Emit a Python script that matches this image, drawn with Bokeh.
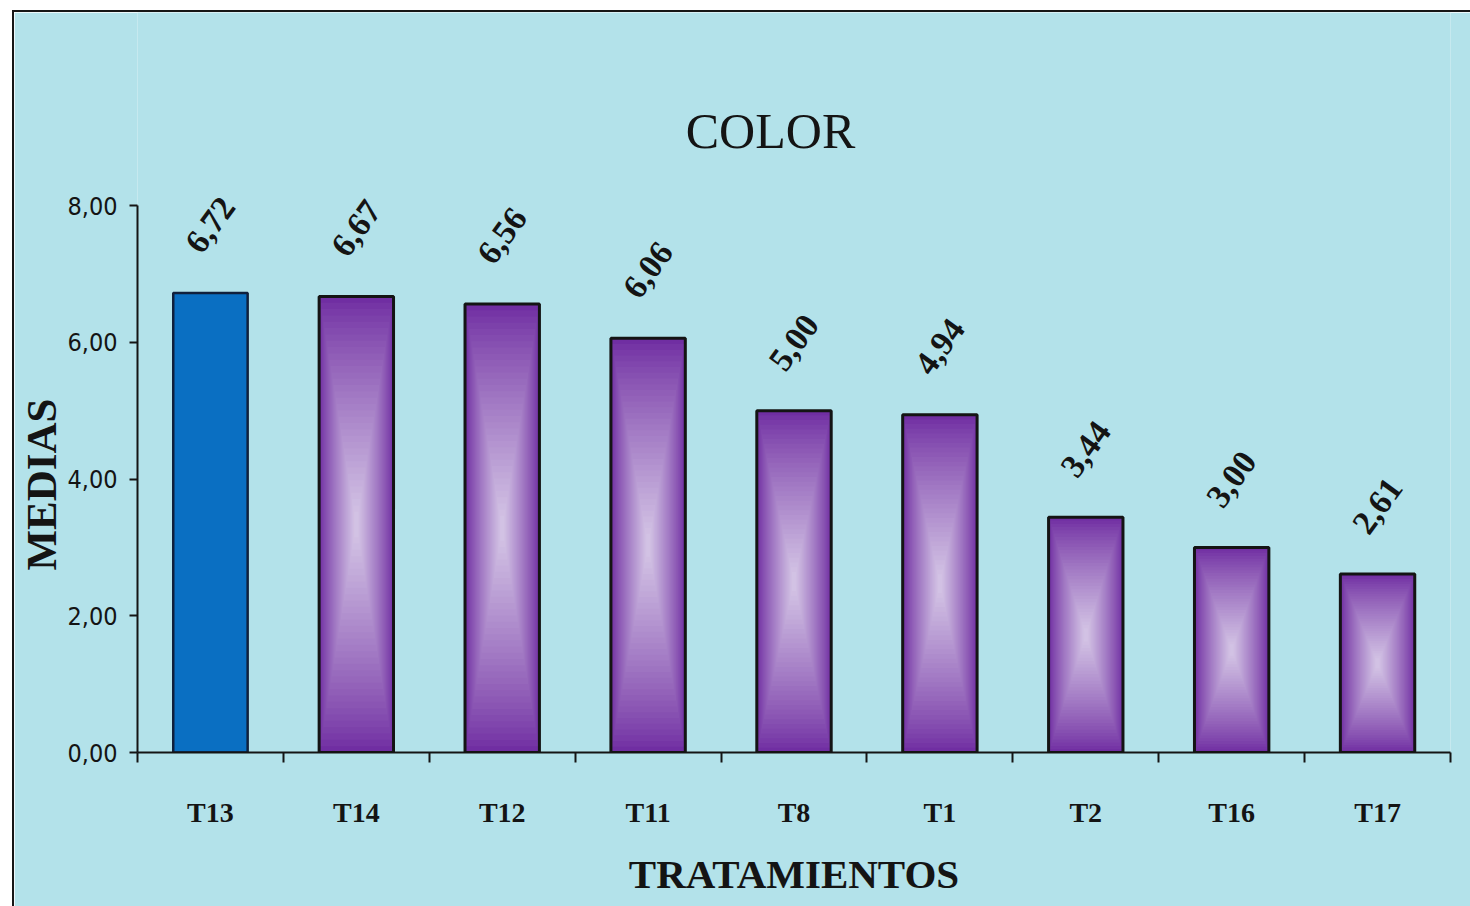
import numpy as np
from bokeh.plotting import figure
from bokeh.models import FixedTicker, Label, LabelSet, Range1d, ColumnDataSource, Title
from bokeh.embed import file_html
from bokeh.resources import INLINE

# Medias de la variable COLOR por tratamiento
tratamientos = ["T13", "T14", "T12", "T11", "T8", "T1", "T2", "T16", "T17"]
medias = [6.72, 6.67, 6.56, 6.06, 5.00, 4.94, 3.44, 3.00, 2.61]
y_ticks = [0, 2, 4, 6, 8]


def coma(v):
    return f"{v:.2f}".replace(".", ",")


BG = "#b3e2ea"
INK = "#141414"
SERIF = "Liberation Serif"
NARROW = "DejaVu Sans Condensed, Liberation Sans Narrow, Liberation Sans"

n = len(tratamientos)
xs = list(range(n))

# el área de trazado llega hasta arriba para que el título y los valores no se recorten;
# el eje Y solo se dibuja entre 0 y 8
FRAME_H = 740
Y_END = 8 * FRAME_H / 547

p = figure(width=1456, height=894, output_backend="svg", toolbar_location=None,
           x_range=Range1d(-0.5, n - 0.5), y_range=Range1d(0, Y_END),
           min_border_left=123, min_border_right=20,
           min_border_top=0, min_border_bottom=154,
           background_fill_color=BG, border_fill_color=BG,
           outline_line_color=None)
p.margin = (12, 0, 0, 14)
p.styles = {"outline": "2px solid #161616"}
p.xgrid.grid_line_color = None
p.ygrid.grid_line_color = None

# eje X: etiquetas en el centro de cada barra, marcas entre categorías
ax = p.xaxis[0]
ax.ticker = FixedTicker(ticks=xs, minor_ticks=[i - 0.5 for i in range(n + 1)])
ax.major_label_overrides = {i: t for i, t in zip(xs, tratamientos)}
ax.major_tick_out = 0
ax.major_tick_in = 0
ax.minor_tick_out = 10
ax.minor_tick_in = 0
ax.minor_tick_line_color = INK
ax.minor_tick_line_width = 2
ax.axis_line_color = INK
ax.axis_line_width = 2
ax.major_label_text_font = SERIF
ax.major_label_text_font_style = "bold"
ax.major_label_text_font_size = "28px"
ax.major_label_text_color = INK
ax.major_label_standoff = 34
ax.axis_label = "TRATAMIENTOS"
ax.axis_label_text_font = SERIF
ax.axis_label_text_font_style = "bold"
ax.axis_label_text_font_size = "41px"
ax.axis_label_text_color = INK
ax.axis_label_standoff = 20

# eje Y
ay = p.yaxis[0]
ay.bounds = (0, 8)
ay.ticker = FixedTicker(ticks=y_ticks, minor_ticks=[])
ay.major_label_overrides = {t: coma(t) for t in y_ticks}
ay.major_tick_out = 8
ay.major_tick_in = 0
ay.major_tick_line_color = INK
ay.major_tick_line_width = 2
ay.axis_line_color = INK
ay.axis_line_width = 2
ay.major_label_text_font = NARROW
ay.major_label_text_font_size = "25px"
ay.major_label_text_color = INK
ay.major_label_standoff = 12

# título del eje Y, a la altura de la escala 0-8
p.add_layout(Title(text="MEDIAS", align="left", offset=182, standoff=0,
                   text_font=SERIF, text_font_style="bold",
                   text_font_size="43px", text_color=INK), "left")

# barras
w = 0.51
dark = np.array([0x70, 0x2e, 0xa2])
light = np.array([0xd2, 0xc2, 0xe4])
N = 36

g_left, g_right, g_bottom, g_top, g_color = [], [], [], [], []
for i, v in enumerate(medias):
    if i == 0:
        continue
    for k in range(N):
        t = k / N
        f = min(1.0, t ** 0.85 * 1.05)
        c = dark + (light - dark) * f
        hw = w / 2 * (1 - t)
        hh = v / 2 * (1 - t)
        g_left.append(xs[i] - hw)
        g_right.append(xs[i] + hw)
        g_bottom.append(v / 2 - hh)
        g_top.append(v / 2 + hh)
        g_color.append("#%02x%02x%02x" % tuple(int(round(x)) for x in c))

p.quad(left=g_left, right=g_right, bottom=g_bottom, top=g_top,
       fill_color=g_color, line_color=None)

others = [i for i in xs if i != 0]
p.quad(left=[xs[i] - w / 2 for i in others], right=[xs[i] + w / 2 for i in others],
       bottom=0, top=[medias[i] for i in others],
       fill_color=None, line_color=INK, line_width=3)

p.quad(left=[xs[0] - w / 2], right=[xs[0] + w / 2], bottom=0, top=[medias[0]],
       fill_color="#0a6fc2", line_color="#10203c", line_width=2.5)

# valores sobre las barras
src = ColumnDataSource(dict(x=xs, y=medias, txt=[coma(v) for v in medias]))
p.add_layout(LabelSet(x="x", y="y", text="txt", source=src,
                      angle=np.deg2rad(54), text_align="center",
                      text_baseline="middle", y_offset=68,
                      text_font=SERIF, text_font_style="bold",
                      text_font_size="34px", text_color=INK))

# título del gráfico
p.add_layout(Label(x=633, y=622, x_units="screen", y_units="screen", text="COLOR",
                   text_align="center", text_baseline="alphabetic",
                   text_font=SERIF, text_font_size="50px", text_color=INK))

open("out.html", "w").write(file_html(p, INLINE))
